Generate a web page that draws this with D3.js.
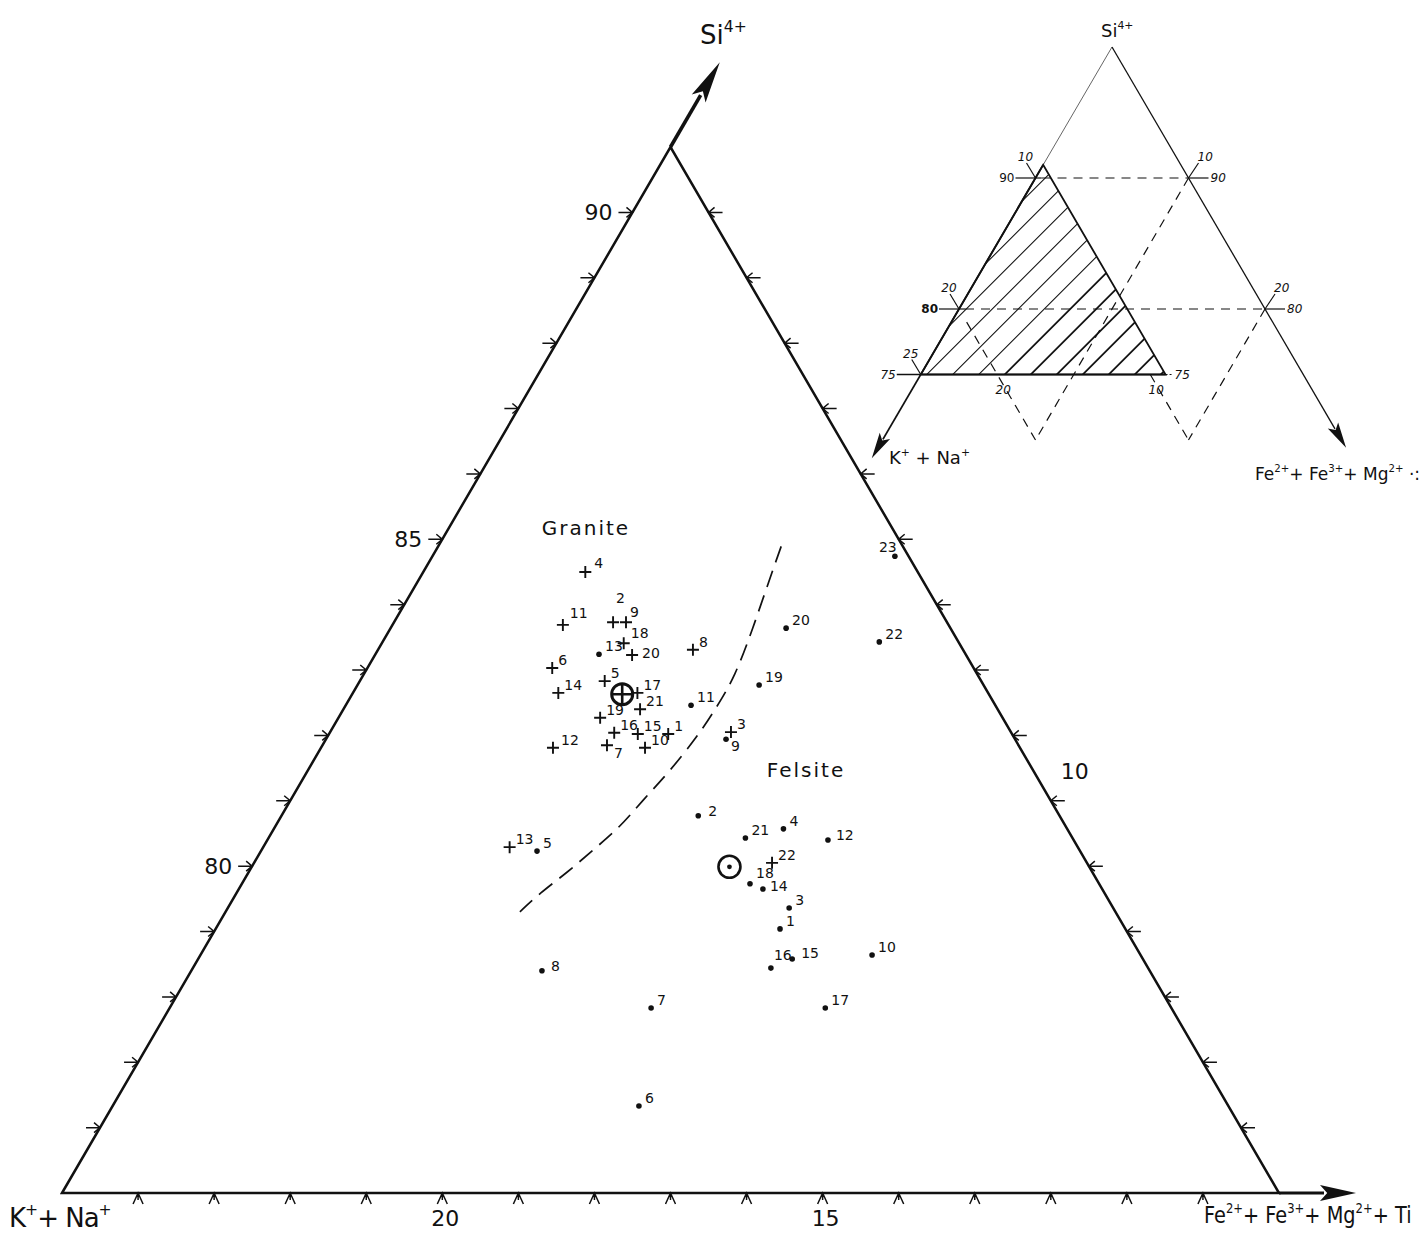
<!DOCTYPE html>
<html>
<head>
<meta charset="utf-8">
<script src="https://cdn.jsdelivr.net/npm/d3@7"></script>
<style>
  body { margin: 0; background: #fff; }
  svg { display: block; }
  text { font-family: "DejaVu Sans", "Liberation Sans", sans-serif; fill: #111; }
</style>
</head>
<body>
<svg id="chart" width="1419" height="1238"></svg>
<script>
// ---- Granite analyses (cation %): sample no., Si4+, Fe2+ + Fe3+ + Mg2+ (K+ + Na+ is the remainder)
const graniteNo = [1, 2, 3, 4, 5, 6, 7, 8, 9, 10, 11, 12, 13, 14, 15, 16, 17, 18, 19, 20, 21, 22];
const graniteSi = [82.02, 83.73, 82.05, 84.50, 82.83, 83.03, 81.85, 83.31, 83.73, 81.81, 83.69,
                   81.81, 80.29, 82.65, 82.02, 82.04, 82.65, 83.41, 82.27, 83.23, 82.40, 80.05];
const graniteFe = [4.46, 2.88, 5.27, 2.13, 3.22, 2.43, 3.74, 4.14, 3.05, 4.26, 2.24,
                   3.05, 3.24, 2.70, 4.06, 3.74, 3.74, 3.18, 3.44, 3.38, 3.90, 6.81];

// ---- Felsite analyses
const felsiteNo = [1, 2, 3, 4, 5, 6, 7, 8, 9, 10, 11, 12, 13, 14, 15, 16, 17, 18, 19, 20, 21, 22, 23];
const felsiteSi = [79.04, 80.77, 79.36, 80.57, 80.23, 76.33, 77.83, 78.40, 81.94, 78.64, 82.46, 80.40,
                   83.24, 79.65, 78.58, 78.44, 77.83, 79.73, 82.77, 83.64, 80.43, 83.43, 84.74];
const felsiteFe = [7.42, 5.48, 7.38, 6.70, 3.63, 6.92, 6.33, 4.61, 5.26, 8.83, 4.54, 7.37,
                   2.94, 6.89, 7.81, 7.60, 8.62, 6.68, 5.28, 5.20, 6.27, 6.53, 6.08];

// ---- Group averages [Si, Fe+Mg]
const graniteMean = [82.63, 3.55];
const felsiteMean = [79.99, 6.28];

// ---- Granite / felsite dividing line
const boundarySi = [79.30, 79.59, 79.90, 80.25, 80.60, 81.01, 81.42, 82.04, 82.43, 82.89, 83.66, 84.33, 84.99];
const boundaryFe = [3.87, 3.99, 4.19, 4.36, 4.54, 4.63, 4.76, 4.87, 4.89, 4.90, 4.76, 4.62, 4.49];

// ---- Axis tick labels
const siLabels = [80, 85, 90];
const feLabels = [10];
const alkLabels = [20, 15];

// ---- Inset: full-diagram reference lines
const insetSiLines = [90, 80, 75];
const insetAlkTicks = [10, 20, 25];
const insetFeTicks = [10, 20];

const W = 1419, H = 1238;
const svg = d3.select("#chart");
svg.append("rect").attr("width", W).attr("height", H).attr("fill", "#fff");

// Main window of the ternary: Si 75–91, K+Na 9–25, Fe+Mg 0–16
const SI_MIN = 75, K_MIN = 9, SPAN = 16;
const xScale = d3.scaleLinear().domain([0, SPAN]).range([62, 1279]);
const yScale = d3.scaleLinear().domain([SI_MIN, SI_MIN + SPAN]).range([1193, 147]);
const proj = (si, fe) => [xScale(fe + (si - SI_MIN) / 2), yScale(si)];

const ink = "#111";
const main = svg.append("g");

const apex = proj(SI_MIN + SPAN, 0), left = proj(SI_MIN, 0), right = proj(SI_MIN, SPAN);

// triangle edges
main.append("path")
  .attr("d", `M${left}L${apex}L${right}Z`)
  .attr("fill", "none").attr("stroke", ink).attr("stroke-width", 2.5).attr("stroke-linejoin", "miter");

// straight arrow with a filled, slightly notched head
function arrow(g, from, to, headLen, headHalf, width) {
  const dx = to[0] - from[0], dy = to[1] - from[1], L = Math.hypot(dx, dy);
  const ux = dx / L, uy = dy / L, nx = -uy, ny = ux;
  const bx = to[0] - ux * headLen, by = to[1] - uy * headLen;
  g.append("line").attr("x1", from[0]).attr("y1", from[1]).attr("x2", bx + ux * 4).attr("y2", by + uy * 4)
    .attr("stroke", ink).attr("stroke-width", width);
  g.append("path")
    .attr("d", `M${to}L${bx + nx * headHalf},${by + ny * headHalf}L${bx + ux * headLen * 0.2},${by + uy * headLen * 0.2}L${bx - nx * headHalf},${by - ny * headHalf}Z`)
    .attr("fill", ink);
}
{
  const dx = apex[0] - left[0], dy = apex[1] - left[1], L = Math.hypot(dx, dy);
  arrow(main, apex, [apex[0] + dx / L * 98, apex[1] + dy / L * 98], 42, 8, 3.6);
  arrow(main, right, [1356, right[1]], 36, 8, 3);
}

// tick marks: Si on left edge, Fe+Mg on right edge, K+Na along base
const tickPath = d3.path();
d3.range(SI_MIN + 1, SI_MIN + SPAN).forEach(s => {
  const [x, y] = proj(s, 0);
  tickPath.moveTo(x - 14, y); tickPath.lineTo(x, y);
  tickPath.moveTo(x - 6, y - 5); tickPath.lineTo(x, y); tickPath.lineTo(x - 6, y + 5);
});
d3.range(1, SPAN).forEach(f => {
  const [x, y] = proj(SI_MIN + SPAN - f, f);
  tickPath.moveTo(x + 14, y); tickPath.lineTo(x, y);
  tickPath.moveTo(x + 6, y - 5); tickPath.lineTo(x, y); tickPath.lineTo(x + 6, y + 5);
});
d3.range(K_MIN + 1, K_MIN + SPAN).forEach(k => {
  const [x, y] = proj(SI_MIN, K_MIN + SPAN - k);
  tickPath.moveTo(x - 5, y + 11); tickPath.lineTo(x, y); tickPath.lineTo(x + 5, y + 11);
  tickPath.moveTo(x, y); tickPath.lineTo(x, y + 7);
});
main.append("path").attr("d", tickPath.toString()).attr("fill", "none")
  .attr("stroke", ink).attr("stroke-width", 1.5);

main.selectAll(".siLab").data(siLabels).join("text")
  .attr("x", d => proj(d, 0)[0] - 20).attr("y", d => proj(d, 0)[1] + 8)
  .attr("text-anchor", "end").attr("font-size", 22).text(d => d);
main.selectAll(".feLab").data(feLabels).join("text")
  .attr("x", d => proj(SI_MIN + SPAN - d, d)[0] + 10).attr("y", d => proj(SI_MIN + SPAN - d, d)[1] - 22)
  .attr("font-size", 22).text(d => d);
main.selectAll(".kLab").data(alkLabels).join("text")
  .attr("x", d => proj(SI_MIN, K_MIN + SPAN - d)[0] + 3).attr("y", 1226)
  .attr("text-anchor", "middle").attr("font-size", 22).text(d => d);

// text with superscripts
function rich(g, x, y, size, parts, anchor) {
  const t = g.append("text").attr("x", x).attr("y", y).attr("font-size", size);
  if (anchor) t.attr("text-anchor", anchor);
  let raised = false;
  parts.forEach(([s, sup]) => {
    const ts = t.append("tspan").text(s);
    if (sup && !raised) { ts.attr("dy", -size * 0.45).attr("font-size", size * 0.6); raised = true; }
    else if (sup) { ts.attr("font-size", size * 0.6); }
    else if (!sup && raised) { ts.attr("dy", size * 0.45); raised = false; }
  });
  return t;
}
rich(main, 700, 44, 26, [["Si"], ["4+", 1]]);
rich(main, 9, 1227, 26, [["K"], ["+", 1], ["+ Na"], ["+", 1]]).attr("letter-spacing", -1);
// narrow lettering for the long right-hand axis name
rich(main.append("g").attr("transform", "translate(1204,1223) scale(0.84,1)"), 0, 0, 23,
  [["Fe"], ["2+", 1], ["+ Fe"], ["3+", 1], ["+ Mg"], ["2+", 1], ["+ Ti"]]);

// dividing line
main.append("path")
  .datum(d3.zip(boundarySi, boundaryFe))
  .attr("d", d3.line().x(d => proj(d[0], d[1])[0]).y(d => proj(d[0], d[1])[1]).curve(d3.curveBasis))
  .attr("fill", "none").attr("stroke", ink).attr("stroke-width", 1.7).attr("stroke-dasharray", "17,9");

// region names
main.append("text").attr("x", 586).attr("y", 535).attr("text-anchor", "middle")
  .attr("font-size", 20).attr("letter-spacing", 2).text("Granite");
main.append("text").attr("x", 806).attr("y", 777).attr("text-anchor", "middle")
  .attr("font-size", 20).attr("letter-spacing", 2).text("Felsite");

// sample number placement (offset of label from its symbol)
const defaultOffset = [6, -3];
const graniteLabelOffset = { 2: [3, -19], 4: [9, -4], 7: [7, 13], 11: [7, -7], 12: [8, -3], 20: [10, 3], 9: [4, -5], 18: [7, -5] };
const felsiteLabelOffset = { 2: [10, 0], 9: [5, 12], 16: [3, -8], 23: [-16, -4], 8: [9, 0], 15: [9, -1], 12: [8, 0], 18: [6, -6], 14: [7, 2] };

const granite = graniteNo.map((n, i) => ({ n, si: graniteSi[i], fe: graniteFe[i] }));
const felsite = felsiteNo.map((n, i) => ({ n, si: felsiteSi[i], fe: felsiteFe[i] }));

const gG = main.append("g");
gG.selectAll("path").data(granite).join("path")
  .attr("transform", d => `translate(${proj(d.si, d.fe)})`)
  .attr("d", "M-6,0H6M0,-6V6").attr("stroke", ink).attr("stroke-width", 1.9);
gG.selectAll("text").data(granite).join("text")
  .attr("x", d => proj(d.si, d.fe)[0] + (graniteLabelOffset[d.n] || defaultOffset)[0])
  .attr("y", d => proj(d.si, d.fe)[1] + (graniteLabelOffset[d.n] || defaultOffset)[1])
  .attr("font-size", 14).text(d => d.n);

const gF = main.append("g");
gF.selectAll("circle").data(felsite).join("circle")
  .attr("cx", d => proj(d.si, d.fe)[0]).attr("cy", d => proj(d.si, d.fe)[1])
  .attr("r", 2.8).attr("fill", ink);
gF.selectAll("text").data(felsite).join("text")
  .attr("x", d => proj(d.si, d.fe)[0] + (felsiteLabelOffset[d.n] || defaultOffset)[0])
  .attr("y", d => proj(d.si, d.fe)[1] + (felsiteLabelOffset[d.n] || defaultOffset)[1])
  .attr("font-size", 14).text(d => d.n);

// group averages
{
  const [x, y] = proj(graniteMean[0], graniteMean[1]);
  main.append("circle").attr("cx", x).attr("cy", y).attr("r", 10.5)
    .attr("fill", "none").attr("stroke", ink).attr("stroke-width", 3);
  main.append("path").attr("d", `M${x - 10.5},${y}H${x + 10.5}M${x},${y - 10.5}V${y + 10.5}`)
    .attr("stroke", ink).attr("stroke-width", 2.6);
}
{
  const [x, y] = proj(felsiteMean[0], felsiteMean[1]);
  main.append("circle").attr("cx", x).attr("cy", y).attr("r", 11)
    .attr("fill", "none").attr("stroke", ink).attr("stroke-width", 2.6);
  main.append("circle").attr("cx", x).attr("cy", y).attr("r", 2.4).attr("fill", ink);
}

// ================= inset: position of the window within the full diagram =================
const inset = svg.append("g");
const inX = d3.scaleLinear().domain([-50, 50]).range([1112 - 50 * 15.3, 1112 + 50 * 15.3]);
const inY = d3.scaleLinear().domain([100, 70]).range([47, 440]);
const iproj = (si, fe) => { const k = 100 - si - fe; return [inX((fe - k) / 2), inY(si)]; };

const iApex = iproj(100, 0);
// outer sides with arrows
inset.append("line").attr("x1", iApex[0]).attr("y1", iApex[1])
  .attr("x2", iproj(91, 0)[0]).attr("y2", iproj(91, 0)[1]).attr("stroke", "#666").attr("stroke-width", 1);
arrow(inset, iproj(91, 0), iproj(68.6, 0), 26, 6, 1.8);
arrow(inset, iApex, iproj(69.4, 30.6), 26, 6, 1.3);

// shaded window
const winPts = [iproj(SI_MIN + SPAN, 0), iproj(SI_MIN, 0), iproj(SI_MIN, SPAN)];
svg.append("defs").append("clipPath").attr("id", "winClip")
  .append("path").attr("d", `M${winPts[0]}L${winPts[1]}L${winPts[2]}Z`);
const hatch = inset.append("g").attr("clip-path", "url(#winClip)");
d3.range(winPts[1][0] - 230, winPts[2][0] + 10, 26).forEach(x0 => {
  hatch.append("line").attr("x1", x0).attr("y1", winPts[1][1] + 2)
    .attr("x2", x0 + 240).attr("y2", winPts[1][1] - 238)
    .attr("stroke", ink).attr("stroke-width", x0 > 1000 ? 1.8 : 1.1);
});
inset.append("path").attr("d", `M${winPts[0]}L${winPts[1]}L${winPts[2]}Z`)
  .attr("fill", "none").attr("stroke", ink).attr("stroke-width", 1.8);

// Si reference lines
const dashed = "9,7";
insetSiLines.forEach(s => {
  const a = iproj(s, 0), b = iproj(s, 100 - s);
  if (s === 75) {
    inset.append("line").attr("x1", a[0] - 24).attr("y1", a[1]).attr("x2", winPts[2][0]).attr("y2", a[1])
      .attr("stroke", ink).attr("stroke-width", 1.4);
    inset.append("line").attr("x1", winPts[2][0]).attr("y1", a[1]).attr("x2", winPts[2][0] + 7).attr("y2", a[1])
      .attr("stroke", ink).attr("stroke-width", 1).attr("stroke-dasharray", "2,2");
    inset.append("text").attr("x", a[0] - 25).attr("y", a[1] + 4).attr("text-anchor", "end")
      .attr("font-size", 12).attr("font-style", "italic").text(s);
    inset.append("text").attr("x", winPts[2][0] + 9).attr("y", a[1] + 4)
      .attr("font-size", 12).attr("font-style", "italic").text(s);
  } else {
    inset.append("line").attr("x1", a[0] - 20).attr("y1", a[1]).attr("x2", a[0] + 6).attr("y2", a[1])
      .attr("stroke", ink).attr("stroke-width", 1.2);
    inset.append("line").attr("x1", a[0] + 6).attr("y1", a[1]).attr("x2", b[0]).attr("y2", b[1])
      .attr("stroke", ink).attr("stroke-width", 1.2).attr("stroke-dasharray", dashed);
    inset.append("line").attr("x1", b[0]).attr("y1", b[1]).attr("x2", b[0] + 20).attr("y2", b[1])
      .attr("stroke", ink).attr("stroke-width", 1.2);
    inset.append("text").attr("x", a[0] - 21).attr("y", a[1] + 4).attr("text-anchor", "end")
      .attr("font-size", 12).attr("font-weight", s === 80 ? "bold" : "normal").text(s);
    inset.append("text").attr("x", b[0] + 22).attr("y", b[1] + 4)
      .attr("font-size", 12).attr("font-style", "italic").text(s);
  }
});

// K+Na ticks on left side, Fe+Mg ticks on right side
insetAlkTicks.forEach(k => {
  const p = iproj(100 - k, 0);
  inset.append("line").attr("x1", p[0]).attr("y1", p[1]).attr("x2", p[0] - 9).attr("y2", p[1] - 15)
    .attr("stroke", ink).attr("stroke-width", 1.2);
  inset.append("text").attr("x", p[0] - 10).attr("y", p[1] - 17).attr("text-anchor", "middle")
    .attr("font-size", 12).attr("font-style", "italic").text(k);
});
insetFeTicks.forEach(f => {
  const p = iproj(100 - f, f);
  inset.append("line").attr("x1", p[0]).attr("y1", p[1]).attr("x2", p[0] + 10).attr("y2", p[1] - 15)
    .attr("stroke", ink).attr("stroke-width", 1.2);
  inset.append("text").attr("x", p[0] + 9).attr("y", p[1] - 17)
    .attr("font-size", 12).attr("font-style", "italic").text(f);
});

// constant K+Na and constant Fe+Mg guide lines
const guide = (a, b) => inset.append("line").attr("x1", a[0]).attr("y1", a[1]).attr("x2", b[0]).attr("y2", b[1])
  .attr("stroke", ink).attr("stroke-width", 1.2).attr("stroke-dasharray", dashed);
guide(iproj(79, 1), iproj(70, 10));      // K+Na = 20
guide(iproj(90, 10), iproj(70, 10));     // Fe+Mg = 10
guide(iproj(75, 15), iproj(70, 20));     // K+Na = 10
guide(iproj(80, 20), iproj(70, 20));     // Fe+Mg = 20
// base labels on the 75 line
[[20, 5], [10, 15]].forEach(([k, f]) => {
  const p = iproj(75, f);
  inset.append("text").attr("x", p[0] + 6).attr("y", p[1] + 19).attr("text-anchor", "middle")
    .attr("font-size", 12).attr("font-style", "italic").text(k);
});

rich(inset, 1101, 37, 18, [["Si"], ["4+", 1]]);
rich(inset, 889, 464, 18, [["K"], ["+", 1], [" + Na"], ["+", 1]]);
rich(inset, 1255, 480, 17, [["Fe"], ["2+", 1], ["+ Fe"], ["3+", 1], ["+ Mg"], ["2+", 1], [" ·:"]]);
</script>
</body>
</html>
